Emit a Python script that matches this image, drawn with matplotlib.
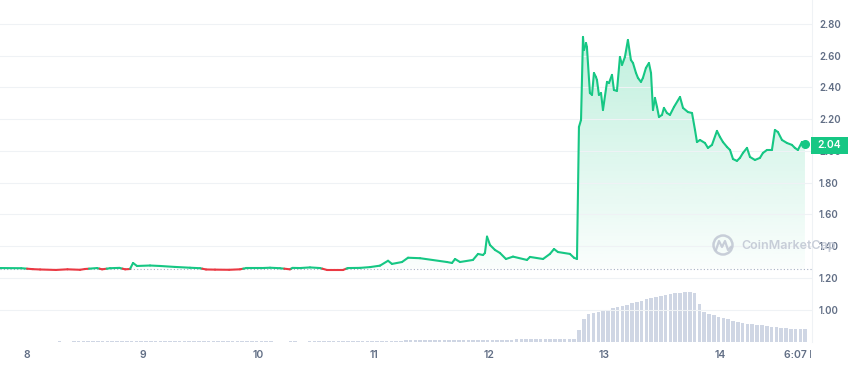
import numpy as np
import matplotlib
matplotlib.use("Agg")
import matplotlib.pyplot as plt
from matplotlib.collections import LineCollection
from matplotlib.patches import Circle, Rectangle
from matplotlib.path import Path
from matplotlib.transforms import Bbox, TransformedBbox
import matplotlib.colors as mcolors

plt.rcParams['font.family'] = ['Inter', 'DejaVu Sans']

# price (day of month, USD)
days = [7.766, 7.95, 8.05, 8.113, 8.25, 8.35, 8.459, 8.502, 8.606, 8.65, 8.719, 8.80, 8.85, 8.892,
        8.918, 8.952, 9.065, 9.152, 9.281, 9.411, 9.498, 9.55, 9.628, 9.75, 9.844, 9.90, 10.035,
        10.104, 10.190, 10.277, 10.30, 10.364, 10.45, 10.537, 10.597, 10.736, 10.779, 10.883,
        10.970, 11.056, 11.126, 11.160, 11.247, 11.299, 11.403, 11.636, 11.680, 11.706, 11.749,
        11.861, 11.905, 11.948, 11.965, 11.983, 12.009, 12.052, 12.095, 12.147, 12.208, 12.329,
        12.355, 12.468, 12.528, 12.563, 12.597, 12.701, 12.736, 12.762, 12.779, 12.797, 12.814,
        12.823, 12.840, 12.848, 12.874, 12.892, 12.909, 12.926, 12.935, 12.952, 12.970, 12.987,
        13.022, 13.039, 13.065, 13.082, 13.108, 13.134, 13.152, 13.177, 13.203, 13.229, 13.247,
        13.273, 13.290, 13.316, 13.333, 13.359, 13.385, 13.403, 13.420, 13.437, 13.455, 13.472,
        13.498, 13.515, 13.541, 13.567, 13.602, 13.654, 13.680, 13.723, 13.758, 13.784, 13.801,
        13.827, 13.870, 13.896, 13.931, 13.974, 14.000, 14.026, 14.061, 14.087, 14.113, 14.147,
        14.173, 14.199, 14.234, 14.260, 14.303, 14.346, 14.372, 14.407, 14.450, 14.476, 14.502,
        14.537, 14.580, 14.623, 14.649, 14.675, 14.710, 14.736]
price = [1.262, 1.261, 1.255, 1.253, 1.250, 1.254, 1.251, 1.256, 1.262, 1.254, 1.261, 1.263, 1.254, 1.256,
         1.294, 1.275, 1.278, 1.275, 1.269, 1.264, 1.261, 1.253, 1.252, 1.251, 1.254, 1.262, 1.262,
         1.264, 1.261, 1.254, 1.263, 1.262, 1.266, 1.262, 1.250, 1.250, 1.262, 1.263,
         1.268, 1.277, 1.308, 1.288, 1.300, 1.327, 1.324, 1.300, 1.294, 1.319, 1.300,
         1.313, 1.351, 1.344, 1.357, 1.460, 1.407, 1.376, 1.357, 1.319, 1.334, 1.313,
         1.332, 1.319, 1.351, 1.382, 1.363, 1.351, 1.327, 1.319, 2.151, 2.195, 2.718,
         2.636, 2.680, 2.655, 2.365, 2.353, 2.491, 2.466, 2.447, 2.353, 2.365, 2.258,
         2.435, 2.428, 2.479, 2.384, 2.378, 2.592, 2.542, 2.592, 2.699, 2.573, 2.554,
         2.491, 2.460, 2.435, 2.460, 2.523, 2.554, 2.491, 2.258, 2.334, 2.277, 2.214,
         2.227, 2.271, 2.239, 2.227, 2.277, 2.340, 2.271, 2.245, 2.239, 2.132, 2.056,
         2.069, 2.050, 2.019, 2.038, 2.126, 2.088, 2.056, 2.025, 2.006, 1.949, 1.937,
         1.956, 1.987, 2.019, 1.962, 1.943, 1.956, 1.987, 2.006, 2.006, 2.132, 2.119,
         2.069, 2.050, 2.038, 2.019, 2.006, 2.056, 2.044]
base_price = 1.258

# hourly volume (millions), first bar at day 7.78
vol_start = 7.78
volume = [
    0.04, 0.04, 0.05, 0.04, 0.03, 0.04, 0.05, 0.05, 0.04, 0.04, 0.05, 0.05, 0.06, 0.05, 0.05, 0.06, 0.06, 0.07, 0.07, 0.08, 0.08, 0.09, 0.10, 0.11,
    0.12, 0.12, 0.13, 0.12, 0.12, 0.13, 0.13, 0.12, 0.12, 0.13, 0.12, 0.12, 0.13, 0.12, 0.12, 0.12, 0.13, 0.12, 0.12, 0.13, 0.12, 0.12, 0.12, 0.12,
    0.12, 0.12, 0.11, 0.10, 0.09, 0.08, 0.07, 0.06, 0.06, 0.05, 0.05, 0.05, 0.06, 0.06, 0.05, 0.05, 0.06, 0.06, 0.07, 0.07, 0.08, 0.09, 0.10, 0.11,
    0.12, 0.12, 0.13, 0.13, 0.13, 0.14, 0.14, 0.14, 0.15, 0.15, 0.15, 0.15, 0.16, 0.16, 0.16, 0.17, 0.17, 0.17, 0.18, 0.18, 0.18, 0.19, 0.19, 0.20,
    0.20, 0.21, 0.21, 0.22, 0.22, 0.23, 0.23, 0.24, 0.24, 0.25, 0.25, 0.26, 0.26, 0.27, 0.27, 0.28, 0.29, 0.30, 0.30, 0.31, 0.32, 0.33, 0.33, 0.34,
    1.17, 2.30, 2.80, 2.95, 3.05, 3.10, 3.25, 3.40, 3.50, 3.60, 3.75, 3.90, 4.00, 4.15, 4.30, 4.40, 4.50, 4.62, 4.72, 4.82, 4.88, 4.93, 4.98, 5.04,
    4.90, 3.80, 3.00, 2.80, 2.70, 2.55, 2.45, 2.30, 2.15, 2.05, 1.95, 1.85, 1.77, 1.70, 1.67, 1.60, 1.53, 1.48, 1.42, 1.38, 1.35, 1.34, 1.34, 1.34]

x_ticks = [8, 9, 10, 11, 12, 13, 14, 14.736]
x_labels = ['8', '9', '10', '11', '12', '13', '14', '6:07 PM']
y_ticks = [1.0, 1.2, 1.4, 1.6, 1.8, 2.0, 2.2, 2.4, 2.6, 2.8]

green = '#16c784'
red = '#ea3943'
label_col = '#616e85'

fig = plt.figure(figsize=(8.5, 3.66), dpi=100)
rect = [0, 24 / 366, 812 / 850, 342 / 366]

# volume axes underneath
axv = fig.add_axes(rect, zorder=0)
vdays = vol_start + np.arange(len(volume)) / 24
axv.bar(vdays, volume, width=0.75 / 24, color='#cfd6e4', linewidth=0)
axv.set_ylim(0, 34.2)
axv.set_xlim(7.766, 14.797)
axv.axis('off')

ax = fig.add_axes(rect, zorder=1)
ax.set_facecolor('none')

d = np.array(days)
p = np.array(price)

# gradient fill above the opening price
poly = ax.fill_between(d, p, base_price, where=p >= base_price, interpolate=True,
                       color='none', linewidth=0)
clip_path = Path.make_compound_path(*poly.get_paths())
rgb = mcolors.to_rgb(green)
grad = np.zeros((256, 1, 4))
grad[:, 0, :3] = rgb
grad[:, 0, 3] = np.linspace(0.02, 0.27, 256)
im = ax.imshow(grad, extent=[d[0], d[-1], base_price, p.max()], origin='lower',
               aspect='auto', zorder=1)
im.set_clip_path(clip_path, transform=ax.transData)

# split line where it crosses the opening price
xs, ys = [d[0]], [p[0]]
for i in range(1, len(d)):
    a, b = p[i - 1] - base_price, p[i] - base_price
    if a * b < 0:
        t = a / (a - b)
        xs.append(d[i - 1] + t * (d[i] - d[i - 1]))
        ys.append(base_price)
    xs.append(d[i])
    ys.append(p[i])
xs, ys = np.array(xs), np.array(ys)
pts = np.column_stack([xs, ys])
segs = np.stack([pts[:-1], pts[1:]], axis=1)
mid = (ys[:-1] + ys[1:]) / 2
cols = [green if m >= base_price else red for m in mid]
lc = LineCollection(segs, colors=cols, linewidths=1.5, zorder=3, capstyle='round', joinstyle='round')
ax.add_collection(lc)

ax.axhline(base_price, color='#a6b0c3', lw=0.8, ls=(0, (1, 2)), zorder=2)
ax.plot(d[-1], p[-1], 'o', ms=5.5, color=green, zorder=4)

ax.set_xlim(7.766, 14.797)
ax.set_ylim(0.796, 2.951)

ax.yaxis.tick_right()
ax.set_yticks(y_ticks, ['%.2f' % v for v in y_ticks])
ax.tick_params(axis='y', length=0, pad=5, labelsize=7, labelcolor=label_col)
ax.set_xticks(x_ticks, x_labels)
ax.tick_params(axis='x', length=0, pad=6, labelsize=7.5, labelcolor=label_col)
for lab in ax.get_xticklabels() + ax.get_yticklabels():
    lab.set_fontweight('semibold')
ax.grid(axis='y', color='#eff2f5', lw=0.8, zorder=0)
for s in ['top', 'left', 'bottom']:
    ax.spines[s].set_visible(False)
ax.spines['right'].set_color('#eff2f5')
ax.spines['right'].set_linewidth(0.8)

clip = TransformedBbox(Bbox.from_extents(0, 0, 811 / 850, 1), fig.transFigure)
last = ax.xaxis.get_major_ticks()[-1].label1
last.set_clip_on(True)
last.set_clip_box(clip)

# overlay in pixel coords for watermark and price tag
ov = fig.add_axes([0, 0, 1, 1], zorder=5)
ov.set_xlim(0, 850)
ov.set_ylim(366, 0)
ov.axis('off')
ov.add_patch(Circle((723, 245), 9.5, fill=False, ec='#c3c9d5', lw=1.8, alpha=0.9))
ov.plot([716, 719, 722, 725, 728, 731], [250, 241, 247, 241, 250, 247], color='#c3c9d5', lw=1.6, alpha=0.9)
ov.text(741, 245.5, 'CoinMarketCap', fontsize=9, fontweight='semibold', color='#c3c9d5',
        alpha=0.9, va='center', ha='left')
ov.add_patch(Rectangle((811, 137), 37, 17, color=green, lw=0))
ov.text(829.5, 145.5, '%.2f' % price[-1], color='white', fontsize=7.5, fontweight='semibold',
        ha='center', va='center')

fig.savefig('out.png', dpi=100)
